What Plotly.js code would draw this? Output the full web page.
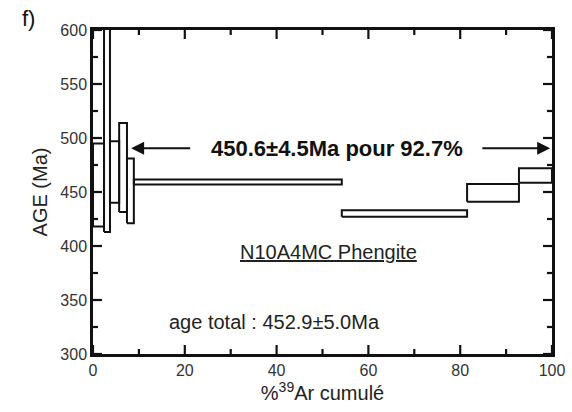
<!DOCTYPE html>
<html>
<head>
<meta charset="utf-8">
<script src="https://cdn.plot.ly/plotly-3.0.1.min.js"></script>
<style>html,body{margin:0;padding:0;background:#fff;}#chart{width:572px;height:412px;}</style>
</head>
<body>
<div id="chart"></div>
<script>
// Step boundaries (% 39Ar cumulated)
var cumStart = [0, 2.4, 3.7, 5.7, 7.4, 8.9, 54.2, 81.5, 92.8];
var cumEnd   = [2.4, 3.7, 5.7, 7.4, 8.9, 54.2, 81.5, 92.8, 100];
// Age bounds (Ma) of each step (age ± error)
var ageLow  = [418, 413, 440, 431.5, 421, 457, 427, 441, 458.5];
var ageHigh = [495, 640, 497, 514, 481, 461.5, 433, 457.5, 472];

// Tick values
var xMajorTicks = [0, 20, 40, 60, 80, 100];
var xMinorTicks = [10, 30, 50, 70, 90];
var yMajorTicks = [300, 350, 400, 450, 500, 550, 600];
var yMinorTicks = [325, 375, 425, 475, 525, 575];

var plateauLabel = "450.6±4.5Ma pour 92.7%";
var sampleLabel = "<u>N10A4MC Phengite</u>";
var totalLabel = "age total : 452.9±5.0Ma";

var xRange = [0, 100], yRange = [300, 600];
var W = 572, H = 412, M = {l: 93, r: 20, t: 30, b: 58};
var plotW = W - M.l - M.r, plotH = H - M.t - M.b;

var traces = [];
for (var i = 0; i < cumStart.length; i++) {
  traces.push({
    type: 'scatter', mode: 'lines',
    x: [cumStart[i], cumEnd[i], cumEnd[i], cumStart[i], cumStart[i]],
    y: [ageLow[i], ageLow[i], ageHigh[i], ageHigh[i], ageLow[i]],
    line: {color: '#111', width: 2},
    hoverinfo: 'skip', showlegend: false
  });
}

// inside tick marks on all four sides, as one line trace (null-separated)
var tx = [], ty = [];
var yPerPx = (yRange[1] - yRange[0]) / plotH;
var xPerPx = (xRange[1] - xRange[0]) / plotW;
function xTicks(vals, len) {
  vals.forEach(function (v) {
    tx.push(v, v, null, v, v, null);
    ty.push(yRange[0], yRange[0] + len * yPerPx, null, yRange[1], yRange[1] - len * yPerPx, null);
  });
}
function yTicks(vals, len) {
  vals.forEach(function (v) {
    ty.push(v, v, null, v, v, null);
    tx.push(xRange[0], xRange[0] + len * xPerPx, null, xRange[1], xRange[1] - len * xPerPx, null);
  });
}
xTicks(xMajorTicks, 9); xTicks(xMinorTicks, 5);
yTicks(yMajorTicks, 9); yTicks(yMinorTicks, 5);
traces.push({type: 'scatter', mode: 'lines', x: tx, y: ty, connectgaps: false,
  line: {color: '#111', width: 2.2}, hoverinfo: 'skip', showlegend: false});

var fontFam = '"Liberation Sans", Arial, sans-serif';
var layout = {
  width: W, height: H,
  margin: M,
  paper_bgcolor: '#fff', plot_bgcolor: '#fff',
  font: {family: fontFam, color: '#222', size: 16},
  showlegend: false,
  xaxis: {
    range: xRange, tickmode: 'array', tickvals: xMajorTicks,
    ticks: '', showline: true, linecolor: '#111', linewidth: 2.5, mirror: true,
    showgrid: false, zeroline: false,
    tickfont: {size: 16, color: '#333'},
    title: {text: '%<sup>39</sup>Ar cumulé', font: {size: 20, color: '#222'}, standoff: 4}
  },
  yaxis: {
    range: yRange, tickmode: 'array', tickvals: yMajorTicks,
    ticks: '', showline: true, linecolor: '#111', linewidth: 2.5, mirror: true,
    showgrid: false, zeroline: false,
    tickfont: {size: 16, color: '#333'},
    title: {text: 'AGE (Ma)', font: {size: 20, color: '#222'}, standoff: 8}
  },
  annotations: [
    {x: 53.2, y: 490.5, xref: 'x', yref: 'y', text: plateauLabel, showarrow: false,
     font: {size: 22, color: '#111', family: fontFam, weight: 'bold'}},
    {x: 8.3, y: 490.5, ax: 21.5, ay: 490.5, axref: 'x', ayref: 'y', xref: 'x', yref: 'y',
     text: '', showarrow: true, arrowhead: 2, arrowsize: 1.3, arrowwidth: 2, arrowcolor: '#111'},
    {x: 99.6, y: 490.5, ax: 84.5, ay: 490.5, axref: 'x', ayref: 'y', xref: 'x', yref: 'y',
     text: '', showarrow: true, arrowhead: 2, arrowsize: 1.3, arrowwidth: 2, arrowcolor: '#111'},
    {x: 51.2, y: 394, xref: 'x', yref: 'y', text: sampleLabel, showarrow: false,
     font: {size: 20, color: '#222'}},
    {x: 39.6, y: 330, xref: 'x', yref: 'y', text: totalLabel, showarrow: false,
     font: {size: 20, color: '#222'}},
    {x: -0.159, y: 1.037, xref: 'paper', yref: 'paper', xanchor: 'left', yanchor: 'middle',
     text: 'f)', showarrow: false, font: {size: 22, color: '#111'}}
  ]
};

Plotly.newPlot('chart', traces, layout, {displayModeBar: false});
</script>
</body>
</html>
